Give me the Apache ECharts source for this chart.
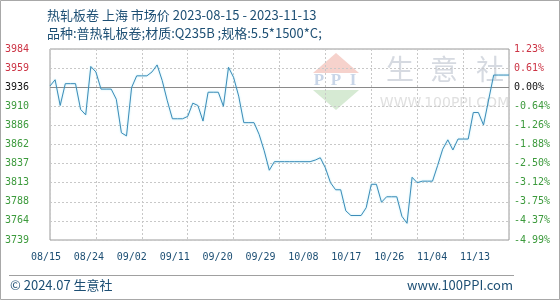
<!DOCTYPE html>
<html><head><meta charset="utf-8">
<script src="https://cdn.jsdelivr.net/npm/echarts@6/dist/echarts.min.js"></script>
<style>html,body{margin:0;padding:0;background:#fff}#c{width:560px;height:300px}</style>
</head><body><div id="c"></div>
<script>
var startDate = '2023-08-15';
var prices = [
3937,3945,3912,3940,3940,3940,3907,3900,3962,3955,
3933,3933,3933,3920,3877,3873,3935,3950,3950,3950,
3955,3964,3944,3918,3895,3895,3895,3898,3915,3912,
3892,3929,3929,3929,3911,3961,3948,3924,3890,3890,
3890,3875,3854,3829,3840,3840,3840,3840,3840,3840,
3840,3840,3842,3845,3832,3813,3804,3804,3777,3771,
3771,3771,3781,3811,3811,3788,3795,3795,3795,3770,
3761,3820,3813,3815,3815,3815,3835,3856,3868,3855,
3869,3869,3869,3903,3903,3887,3919,3951,3951,3951,3951
];
var xTickLabels = ['08/15','08/24','09/02','09/11','09/20','09/29','10/08','10/17','10/26','11/04','11/13'];
var yTickLabels = ['3739','3764','3788','3813','3837','3862','3886','3910','3936','3959','3984'];
var pctTickLabels = ['-4.99%','-4.37%','-3.75%','-3.12%','-2.50%','-1.88%','-1.26%','-0.64%','0.00%','0.61%','1.23%'];
var basePrice = 3936;
var yMin = 3739.6, yStep = 24.48, yMax = 3984.4;

var dates = [];
(function(){
  var d = new Date(startDate + 'T00:00:00Z');
  for (var i = 0; i < prices.length; i++) {
    var m = d.getUTCMonth()+1, dd = d.getUTCDate();
    dates.push((m<10?'0':'')+m+'/'+(dd<10?'0':'')+dd);
    d.setUTCDate(d.getUTCDate()+1);
  }
})();

function idxOf(v){ return Math.round((v - yMin)/yStep); }
var RED = '#cc3344', GREEN = '#3c9a3c', BLACK = '#111';
function colorFor(i){ return i > 8 ? RED : (i === 8 ? BLACK : GREEN); }
var mono = '"DejaVu Sans Mono", monospace';
var cjk = '"Noto Sans CJK SC", "Noto Sans", sans-serif';
var titleColor = '#1d4f74';
var wmFont = 'bold 17px "Liberation Serif", serif';

var chart = echarts.init(document.getElementById('c'), null, {renderer:'canvas'});
chart.setOption({
  animation: false,
  backgroundColor: '#fff',
  grid: [
    {left: 50, right: 51, top: 49, bottom: 60, show: true, borderColor: '#9a9a9a', borderWidth: 1, backgroundColor: 'transparent'},
    {left: 46, right: 85, top: 49, bottom: 60, show: false}
  ],
  xAxis: [
    {type: 'category', gridIndex: 0, data: dates, boundaryGap: false,
     axisLine: {show: false}, axisTick: {show: false}, axisLabel: {show: false},
     splitLine: {show: true, interval: function(i){ return i % 9 === 0; }, lineStyle: {color: '#c8c8c8', type: [2,2]}}},
    {type: 'category', gridIndex: 1, data: xTickLabels, boundaryGap: false,
     axisLine: {show: false}, axisTick: {show: false}, splitLine: {show: false},
     axisLabel: {interval: 0, margin: 12, fontFamily: mono, fontSize: 10, color: titleColor}}
  ],
  yAxis: [
    {type: 'value', gridIndex: 0, min: yMin, max: yMax, interval: yStep, position: 'left',
     axisLine: {show: false}, axisTick: {show: false},
     splitLine: {show: true, lineStyle: {color: '#c8c8c8', type: [2,2]}},
     axisLabel: {margin: 45, align: 'left', fontFamily: mono, fontSize: 10,
       formatter: function(v){ return yTickLabels[idxOf(v)] || ''; },
       color: function(v){ return colorFor(idxOf(v)); }}},
    {type: 'value', gridIndex: 0, min: yMin, max: yMax, interval: yStep, position: 'right',
     axisLine: {show: false}, axisTick: {show: false}, splitLine: {show: false},
     axisLabel: {margin: 5, align: 'left', fontFamily: mono, fontSize: 10,
       formatter: function(v){ return pctTickLabels[idxOf(v)] || ''; },
       color: function(v){ return colorFor(idxOf(v)); }}},
    {type: 'value', gridIndex: 1, show: false}
  ],
  graphic: [
    {type: 'rect', silent: true, z: -20, shape: {x: 0.5, y: 0.5, width: 559, height: 299}, style: {fill: 'none', stroke: '#a8a8a8', lineWidth: 1}},
    {type: 'polygon', silent: true, z: -10, shape: {points: [[313,73],[336,53],[359,73]]}, style: {fill: '#f6d2cc'}},
    {type: 'text', silent: true, z: -10, x: 319, y: 81, style: {text: 'P', font: wmFont, fill: '#c9d6e8', textAlign: 'center', textVerticalAlign: 'middle'}},
    {type: 'text', silent: true, z: -10, x: 336, y: 81, style: {text: 'P', font: wmFont, fill: '#c9d6e8', textAlign: 'center', textVerticalAlign: 'middle'}},
    {type: 'text', silent: true, z: -10, x: 353, y: 81, style: {text: 'I', font: wmFont, fill: '#c9d6e8', textAlign: 'center', textVerticalAlign: 'middle'}},
    {type: 'polygon', silent: true, z: -10, shape: {points: [[313,90],[359,90],[336,110]]}, style: {fill: '#d6ead3'}},
    {type: 'text', silent: true, z: -10, x: 400, y: 69, style: {text: '生', font: '28px ' + cjk, fill: '#d6dae1', textAlign: 'center', textVerticalAlign: 'middle'}},
    {type: 'text', silent: true, z: -10, x: 444, y: 69, style: {text: '意', font: '28px ' + cjk, fill: '#d6dae1', textAlign: 'center', textVerticalAlign: 'middle'}},
    {type: 'text', silent: true, z: -10, x: 490, y: 69, style: {text: '社', font: '28px ' + cjk, fill: '#d6dae1', textAlign: 'center', textVerticalAlign: 'middle'}},
    {type: 'text', silent: true, z: -10, x: 444.5, y: 103, style: {text: 'WWW.100PPI.COM', font: '14px "DejaVu Sans", sans-serif', fill: '#e0e0e0', textAlign: 'center', textVerticalAlign: 'middle'}},
    {type: 'text', silent: true, x: 47, y: 15, style: {text: '热轧板卷 上海 市场价 2023-08-15 - 2023-11-13', font: '13px ' + cjk, fill: titleColor, textVerticalAlign: 'middle'}},
    {type: 'text', silent: true, x: 47, y: 33, style: {text: '品种:普热轧板卷;材质:Q235B ;规格:5.5*1500*C;', font: '13px ' + cjk, fill: titleColor, textVerticalAlign: 'middle'}},
    {type: 'line', silent: true, shape: {x1: 9, y1: 275.5, x2: 514, y2: 275.5}, style: {stroke: '#a0a0a0', lineWidth: 1}},
    {type: 'text', silent: true, x: 10, y: 285, style: {text: '© 2024.07 生意社', font: '13px ' + cjk, fill: titleColor, textVerticalAlign: 'middle'}},
    {type: 'text', silent: true, x: 513, y: 285, style: {text: 'www.100PPI.com', font: '13px ' + cjk, fill: titleColor, textAlign: 'right', textVerticalAlign: 'middle'}}
  ],
  series: [
    {type: 'line', xAxisIndex: 0, yAxisIndex: 0, data: prices, symbol: 'none', z: 5,
     lineStyle: {color: '#3d8cb8', width: 1, shadowColor: 'rgba(120,220,240,0.6)', shadowBlur: 2},
     markLine: {silent: true, symbol: 'none', label: {show: false}, animation: false,
       lineStyle: {color: '#8a8a8a', type: 'solid', width: 1},
       data: [{yAxis: basePrice}]}}
  ]
});
</script></body></html>
